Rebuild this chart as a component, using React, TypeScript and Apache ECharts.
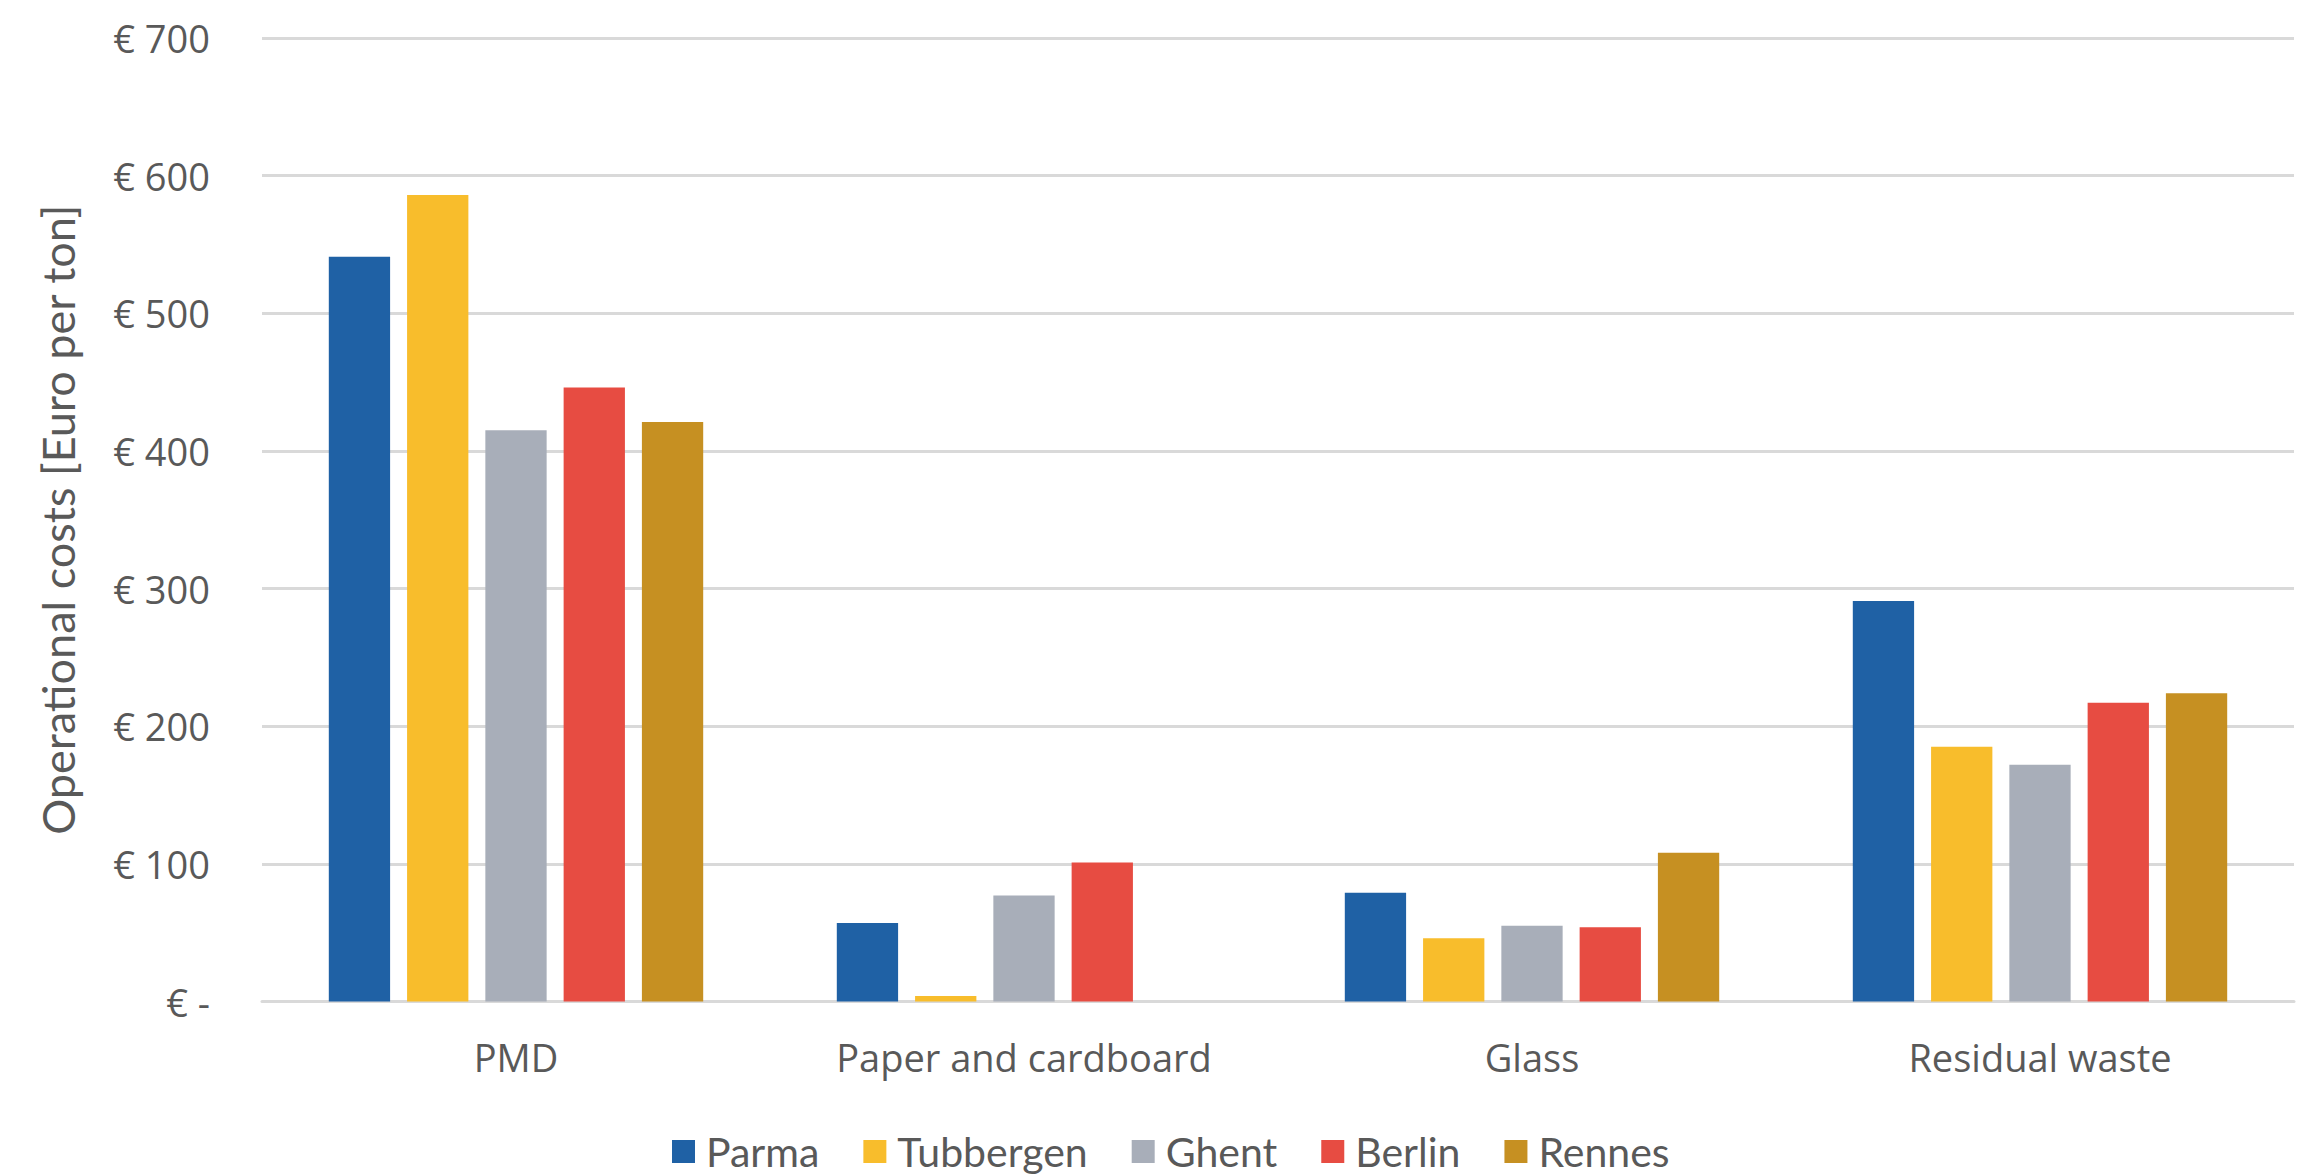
import React, { useEffect, useRef } from "react";
import * as echarts from "echarts";

const categories = ["PMD", "Paper and cardboard", "Glass", "Residual waste"];
const seriesNames = ["Parma", "Tubbergen", "Ghent", "Berlin", "Rennes"];
const parma = [541, 57, 79, 291];
const tubbergen = [586, 4, 46, 185];
const ghent = [415, 77, 55, 172];
const berlin = [446, 101, 54, 217];
const rennes = [421, null, 108, 224];
const colors = ["#1F61A5", "#F8BD2C", "#A8AEB9", "#E74C42", "#C69022"];
const yTicks = { min: 0, max: 700, interval: 100 };

export default function App() {
  const ref = useRef<HTMLDivElement>(null);
  useEffect(() => {
    document.body.style.margin = "0";
    const chart = echarts.init(ref.current!, null, { renderer: "svg" });
    const values = [parma, tubbergen, ghent, berlin, rennes];
    chart.setOption({
      animation: false,
      backgroundColor: "#FFFFFF",
      grid: { left: 262, right: 21, top: 38, bottom: 173.5, containLabel: false },
      legend: {
        bottom: -2,
        left: 667,
        itemWidth: 23,
        itemHeight: 23,
        itemGap: 44,
        icon: "rect",
        textStyle: {
          fontFamily: "Lato",
          fontSize: 41,
          lineHeight: 40,
          color: "#595959",
          padding: [0, 0, 0, 6],
        },
        data: seriesNames,
      },
      xAxis: {
        type: "category",
        data: categories,
        axisLine: { lineStyle: { color: "#D9D9D9", width: 3 } },
        axisTick: { show: false },
        axisLabel: { fontFamily: "Open Sans", fontSize: 38, color: "#595959", margin: 36 },
      },
      yAxis: {
        type: "value",
        min: yTicks.min,
        max: yTicks.max,
        interval: yTicks.interval,
        name: "Operational costs [Euro per ton]",
        nameLocation: "middle",
        nameGap: 182,
        nameTextStyle: { fontFamily: "Lato", fontSize: 45, color: "#595959" },
        axisLine: { show: false },
        axisTick: { show: false },
        splitLine: { lineStyle: { color: "#D9D9D9", width: 3 } },
        axisLabel: {
          fontFamily: "Open Sans",
          fontSize: 38,
          color: "#595959",
          margin: 52,
          formatter: (v: number) => (v === 0 ? "€ -" : "€ " + v),
        },
      },
      series: seriesNames.map((name, i) => ({
        name,
        type: "bar",
        data: values[i],
        itemStyle: { color: colors[i] },
        barGap: "27.7%",
        barCategoryGap: "26.3%",
      })),
    });
    return () => chart.dispose();
  }, []);
  return <div ref={ref} style={{ position: "fixed", left: 0, top: 0, width: 2315, height: 1175 }} />;
}
